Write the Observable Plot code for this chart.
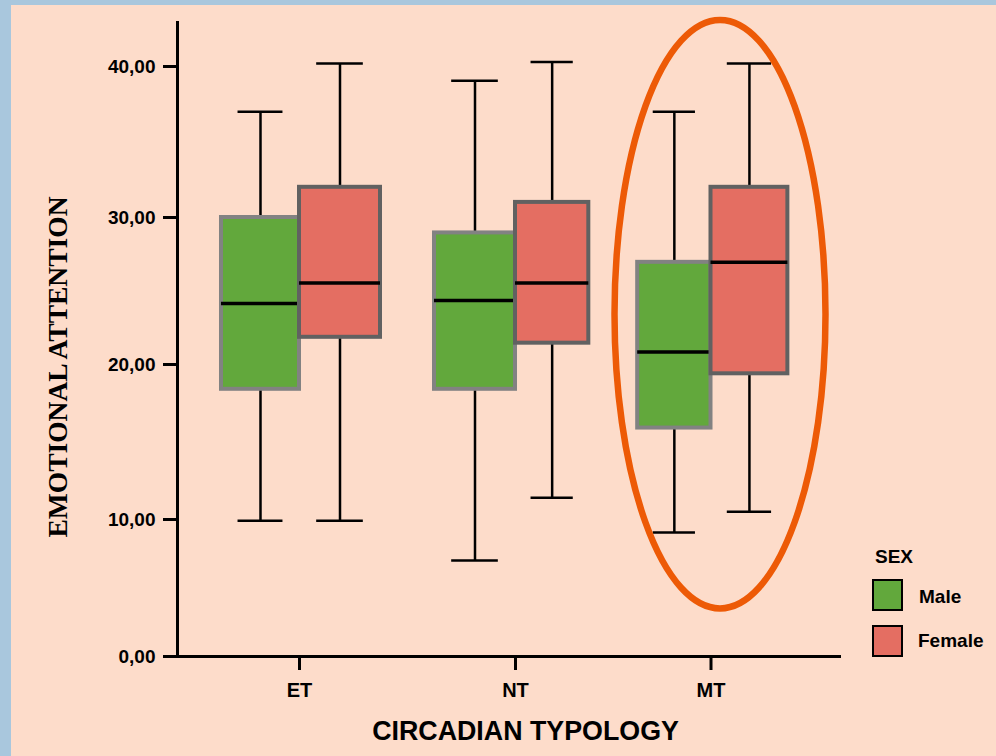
<!DOCTYPE html>
<html>
<head>
<meta charset="utf-8">
<script src="https://cdn.jsdelivr.net/npm/d3@7"></script>
<script src="https://cdn.jsdelivr.net/npm/@observablehq/plot@0.6"></script>
<style>
  html, body { margin: 0; padding: 0; }
  body { width: 996px; height: 756px; background: #A9C7DD; position: relative; overflow: hidden;
         font-family: "Liberation Sans", Arial, sans-serif; }
  #wrap { position: absolute; left: 11px; top: 5px; width: 985px; height: 751px; background: #FDDCCA; }
  #wrap svg { display: block; }
  .t { position: absolute; white-space: nowrap; line-height: 1; font-weight: bold; color: #000; }
  .sw { position: absolute; width: 27px; height: 28px; border: 2.5px solid #000; }
</style>
</head>
<body>
<div id="wrap"></div>
<div class="t" id="ytitle" style="left:58px; top:367px; font-family:'Liberation Serif','Times New Roman',serif; font-size:27.5px; transform:translate(-50%,-50%) rotate(-90deg);">EMOTIONAL ATTENTION</div>
<div class="t" style="left:525.5px; top:718px; font-size:26.8px; transform:translateX(-50%);">CIRCADIAN TYPOLOGY</div>
<div class="t" style="left:875px; top:547px; font-size:19px;">SEX</div>
<div class="sw" style="left:872px; top:579px; background:#62A83C;"></div>
<div class="t" style="left:919px; top:587px; font-size:19px;">Male</div>
<div class="sw" style="left:872px; top:625px; background:#E46E62;"></div>
<div class="t" style="left:918px; top:631px; font-size:19px;">Female</div>
<script>
// ---- data ----
const categories = ["ET", "NT", "MT"];
const sexes = ["Male", "Female"];
const yTicks = [0, 10, 20, 30, 40];

const maleLow    = [9.9, 7.0, 9.05];
const maleQ1     = [18.4, 18.4, 15.9];
const maleMedian = [24.15, 24.35, 20.85];
const maleQ3     = [30.0, 28.95, 26.95];
const maleHigh   = [37.0, 39.05, 37.0];

const femaleLow    = [9.9, 11.4, 10.5];
const femaleQ1     = [21.85, 21.45, 19.4];
const femaleMedian = [25.55, 25.55, 26.95];
const femaleQ3     = [32.0, 31.0, 32.0];
const femaleHigh   = [40.2, 40.3, 40.2];

// highlighted group (annotation ellipse), in data units
const highlight = {category: "MT", x1: 1.509, x2: 2.561, y1: 3.47, y2: 43.07};

// ---- layout / style config ----
const boxW = 0.375, capHalf = 0.108;
const xDomain = [-0.5865, 0, 1, 2, 2.6366];
const xRange = [166, 288, 504, 699.5, 830];
const yDomain = [0, 10, 20, 30, 40, 43];
const yRange = [651, 514, 359, 212, 61, 16];

const rows = [];
categories.forEach((c, i) => {
  sexes.forEach((s) => {
    const m = s === "Male";
    rows.push({
      category: c, sex: s,
      low: (m ? maleLow : femaleLow)[i],
      q1: (m ? maleQ1 : femaleQ1)[i],
      median: (m ? maleMedian : femaleMedian)[i],
      q3: (m ? maleQ3 : femaleQ3)[i],
      high: (m ? maleHigh : femaleHigh)[i],
      x1: m ? i - boxW : i,
      x2: m ? i : i + boxW,
      xc: m ? i - boxW / 2 : i + boxW / 2
    });
  });
});
const male = rows.filter(d => d.sex === "Male");
const female = rows.filter(d => d.sex === "Female");

function ellipseMark(index, scales) {
  const {x, y} = scales;
  const X1 = x(highlight.x1), X2 = x(highlight.x2);
  const Y1 = y(highlight.y1), Y2 = y(highlight.y2);
  const e = document.createElementNS("http://www.w3.org/2000/svg", "ellipse");
  e.setAttribute("cx", (X1 + X2) / 2);
  e.setAttribute("cy", (Y1 + Y2) / 2);
  e.setAttribute("rx", Math.abs(X2 - X1) / 2);
  e.setAttribute("ry", Math.abs(Y1 - Y2) / 2);
  e.setAttribute("fill", "none");
  e.setAttribute("stroke", "#ED5A06");
  e.setAttribute("stroke-width", 6.5);
  return e;
}

const boxMarks = (data, fill, stroke) => [
  Plot.rect(data, {x1: "x1", x2: "x2", y1: "q1", y2: "q3", fill, stroke, strokeWidth: 4}),
  Plot.ruleY(data, {y: "median", x1: "x1", x2: "x2", stroke: "#000", strokeWidth: 3.5})
];

const chart = Plot.plot({
  width: 985, height: 751,
  marginLeft: 166, marginRight: 155, marginTop: 16, marginBottom: 100,
  style: {background: "transparent", fontFamily: "'Liberation Sans', Arial, sans-serif", fontSize: "19px", fontWeight: "bold", color: "#000"},
  x: {type: "linear", domain: xDomain, range: xRange},
  y: {type: "linear", domain: yDomain, range: yRange},
  marks: [
    Plot.axisY({ticks: yTicks, tickFormat: d => d.toFixed(2).replace(".", ","), tickSize: 14, tickPadding: 8, strokeWidth: 3, label: null, fontSize: 19}),
    Plot.axisX({ticks: [0, 1, 2], tickFormat: i => categories[i], tickSize: 14, tickPadding: 12, strokeWidth: 3, label: null, fontSize: 20}),
    Plot.ruleX(rows, {x: "xc", y1: "low", y2: "high", stroke: "#000", strokeWidth: 2.5}),
    Plot.ruleY(rows, {y: "low", x1: d => d.xc - capHalf, x2: d => d.xc + capHalf, stroke: "#000", strokeWidth: 2.5}),
    Plot.ruleY(rows, {y: "high", x1: d => d.xc - capHalf, x2: d => d.xc + capHalf, stroke: "#000", strokeWidth: 2.5}),
    ...boxMarks(male, "#62A83C", "#828282"),
    ...boxMarks(female, "#E46E62", "#616161"),
    Plot.ruleY([0], {stroke: "#000", strokeWidth: 3}),
    Plot.ruleX([xDomain[0]], {y1: 0, y2: yDomain[yDomain.length - 1], stroke: "#000", strokeWidth: 3}),
    ellipseMark
  ]
});
document.getElementById("wrap").appendChild(chart);
</script>
</body>
</html>
